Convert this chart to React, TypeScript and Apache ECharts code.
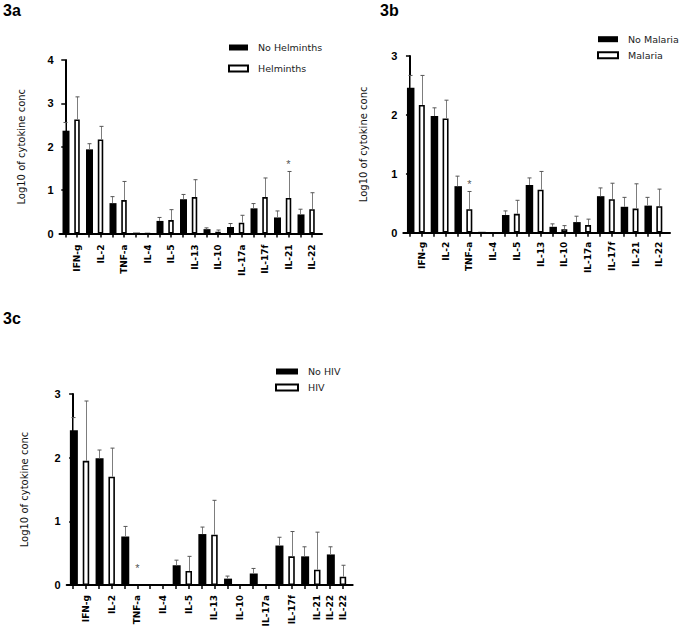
import React, { useEffect, useRef } from 'react';
import * as echarts from 'echarts';

// Cytokine categories (order of the pairs along the x axis)
const cytokines = ['IFN-g', 'IL-2', 'TNF-a', 'IL-4', 'IL-5', 'IL-13', 'IL-10', 'IL-17a', 'IL-17f', 'IL-21', 'IL-22'];

// 3a – helminths
const noHelminths = [2.37, 1.94, 0.70, 0.02, 0.29, 0.79, 0.10, 0.15, 0.58, 0.37, 0.44];
const noHelminthsErr = [0.19, 0.13, 0.15, 0, 0.08, 0.11, 0.03, 0.08, 0.11, 0.15, 0.12];
const helminths = [2.63, 2.17, 0.77, 0, 0.31, 0.84, 0.04, 0.25, 0.84, 0.82, 0.56];
const helminthsErr = [0.52, 0.30, 0.43, 0, 0.24, 0.40, 0.04, 0.17, 0.44, 0.61, 0.38];

// 3b – malaria
const noMalaria = [2.46, 1.98, 0.79, 0.015, 0.30, 0.81, 0.10, 0.18, 0.62, 0.44, 0.46];
const noMalariaErr = [0.21, 0.14, 0.17, 0, 0.07, 0.12, 0.05, 0.10, 0.14, 0.16, 0.14];
const malaria = [2.17, 1.94, 0.40, 0, 0.32, 0.73, 0.06, 0.13, 0.57, 0.41, 0.45];
const malariaErr = [0.50, 0.31, 0.30, 0, 0.23, 0.31, 0.06, 0.10, 0.27, 0.42, 0.29];

// 3c – HIV
const noHiv = [2.43, 1.99, 0.76, 0.015, 0.31, 0.80, 0.10, 0.18, 0.62, 0.45, 0.48];
const noHivErr = [0.20, 0.13, 0.16, 0, 0.08, 0.11, 0.04, 0.08, 0.13, 0.15, 0.12];
const hiv = [1.95, 1.70, 0, 0, 0.22, 0.79, 0, 0, 0.45, 0.24, 0.13];
const hivErr = [0.94, 0.45, 0, 0, 0.23, 0.54, 0, 0, 0.39, 0.59, 0.18];

// Tick labels (slot index of each label; bars occupy slots 0..21)
const labelsAB = cytokines;
const labelSlotsAB = [1, 3, 5, 7, 9, 11, 13, 15, 17, 19, 21];
const labelsC = ['IFN-g', 'IL-2', 'TNF-a', 'IL-4', 'IL-5', 'IL-13', 'IL-10', 'IL-17a', 'IL-17f', 'IL-21', 'IL-22', 'IL-22'];
const labelSlotsC = [1, 3, 5, 7, 9, 11, 13, 15, 17, 19, 20, 21];

// Significance stars: [slot, y]
const starsA = [[19, 1.6]];
const starsB = [[5, 0.83]];
const starsC = [[5, 0.27]];

const titles = ['3a', '3b', '3c'];
const yAxisName = 'Log10 of cytokine conc';

const SANS = '"DejaVu Sans", sans-serif';
const ARIAL = '"Liberation Sans", Arial, sans-serif';

export default function App() {
  const ref = useRef<HTMLDivElement>(null);
  useEffect(() => {
    document.body.style.margin = '0';
    const chart = echarts.init(ref.current!, null, { renderer: 'svg' });

    const panels = [
      {
        names: ['No Helminths', 'Helminths'], a: noHelminths, aErr: noHelminthsErr, b: helminths, bErr: helminthsErr,
        yMax: 4, grid: { left: 59.5, top: 60, width: 262.5, height: 173.5 }, xMin: -0.49, xMax: 21.85,
        barWidth: 7, labels: labelsAB, slots: labelSlotsAB, stars: starsA, nameGap: 33, labelMargin: 11,
        legend: { left: 228, top: 42.5, itemGap: 11, itemWidth: 19 },
        title: { left: 3, top: 2 },
      },
      {
        names: ['No Malaria', 'Malaria'], a: noMalaria, aErr: noMalariaErr, b: malaria, bErr: malariaErr,
        yMax: 3, grid: { left: 403.3, top: 56, width: 266.7, height: 176.7 }, xMin: -0.56, xMax: 21.9,
        barWidth: 7.5, labels: labelsAB, slots: labelSlotsAB, stars: starsB, nameGap: 35, labelMargin: 9,
        legend: { left: 597, top: 34.2, itemGap: 6, itemWidth: 20 },
        title: { left: 380, top: 2 },
      },
      {
        names: ['No HIV', 'HIV'], a: noHiv, aErr: noHivErr, b: hiv, bErr: hivErr,
        yMax: 3, grid: { left: 66.7, top: 394, width: 286, height: 191 }, xMin: -0.5, xMax: 21.76,
        barWidth: 8, labels: labelsC, slots: labelSlotsC, stars: starsC, nameGap: 37, labelMargin: 10,
        legend: { left: 275, top: 366.5, itemGap: 6, itemWidth: 22 },
        title: { left: 3, top: 310 },
      },
    ];

    const grid: any[] = [];
    const xAxis: any[] = [];
    const yAxis: any[] = [];
    const legend: any[] = [];
    const title: any[] = [];
    const series: any[] = [];

    panels.forEach((p, k) => {
      grid.push({ ...p.grid, outerBoundsMode: 'none', containLabel: false });
      const labelMap: Record<number, string> = {};
      p.slots.forEach((s, i) => { labelMap[s] = p.labels[i]; });
      const tickSlots = cytokines.flatMap((_, i) => [2 * i, 2 * i + 1]);
      xAxis.push({
        type: 'value', gridIndex: k, min: p.xMin, max: p.xMax,
        splitLine: { show: false },
        axisLine: { show: true, onZero: false, lineStyle: { color: '#000', width: 2 } },
        axisTick: { show: true, customValues: tickSlots, length: 4, lineStyle: { color: '#000', width: 1.5 } },
        axisLabel: {
          show: true, customValues: p.slots, rotate: 90, margin: p.labelMargin,
          formatter: (v: number) => labelMap[v] ?? '',
          fontFamily: SANS, fontWeight: 'bold', fontSize: 9, color: '#000',
        },
      });
      yAxis.push({
        type: 'value', gridIndex: k, min: 0, max: p.yMax, interval: 1,
        name: yAxisName, nameLocation: 'middle', nameGap: p.nameGap, nameRotate: 90,
        nameTextStyle: { fontFamily: SANS, fontSize: 10, color: '#111' },
        splitLine: { show: false },
        axisLine: { show: true, lineStyle: { color: '#000', width: 2 } },
        axisTick: { show: true, length: 4, lineStyle: { color: '#000', width: 1.5 } },
        axisLabel: { margin: 6, fontFamily: ARIAL, fontWeight: 'bold', fontSize: 11, color: '#000' },
      });
      legend.push({
        data: p.names, orient: 'vertical', left: p.legend.left, top: p.legend.top,
        itemGap: p.legend.itemGap, itemWidth: p.legend.itemWidth, itemHeight: 6, padding: 0,
        icon: 'rect', selectedMode: false,
        textStyle: { fontFamily: SANS, fontSize: 9.5, color: '#222', padding: [0, 0, 0, 5] },
      });
      title.push({
        text: titles[k], left: p.title.left, top: p.title.top, padding: 0,
        textStyle: { fontFamily: ARIAL, fontWeight: 'bold', fontSize: 16, color: '#000' },
      });

      series.push({
        name: p.names[0], type: 'bar', xAxisIndex: k, yAxisIndex: k,
        data: p.a.map((v, i) => [2 * i, v]), barWidth: p.barWidth, barGap: '-100%',
        itemStyle: { color: '#000', borderColor: '#000', borderWidth: 0 },
      });
      series.push({
        name: p.names[1], type: 'bar', xAxisIndex: k, yAxisIndex: k,
        data: p.b.map((v, i) => [2 * i + 1, v]), barWidth: p.barWidth - 1.5, barGap: '-100%',
        itemStyle: { color: '#fff', borderColor: '#000', borderWidth: 1.6 },
      });
      const errData = [
        ...p.a.map((v, i) => [2 * i, v, p.aErr[i]]),
        ...p.b.map((v, i) => [2 * i + 1, v, p.bErr[i]]),
      ];
      series.push({
        type: 'custom', xAxisIndex: k, yAxisIndex: k, z: 3, clip: false,
        encode: { x: 0, y: 1 },
        data: errData,
        renderItem: (_params: any, api: any) => {
          const x = api.value(0), m = api.value(1), e = api.value(2);
          if (!e) return { type: 'group', children: [] };
          const p0 = api.coord([x, m]);
          const p1 = api.coord([x, m + e]);
          const cx = Math.round(p0[0]) + 0.5;
          return {
            type: 'group',
            children: [
              { type: 'line', shape: { x1: cx, y1: p0[1], x2: cx, y2: p1[1] }, style: { stroke: '#7d7d7d', lineWidth: 1 } },
              { type: 'line', shape: { x1: cx - 2, y1: p1[1], x2: cx + 2, y2: p1[1] }, style: { stroke: '#555', lineWidth: 1 } },
            ],
          };
        },
      });
      series.push({
        type: 'scatter', xAxisIndex: k, yAxisIndex: k, z: 4,
        data: p.stars, symbolSize: 1, itemStyle: { color: 'rgba(0,0,0,0)' },
        label: { show: true, formatter: '*', position: 'inside', fontFamily: ARIAL, fontSize: 11, color: '#222' },
      });
    });

    chart.setOption({
      animation: false,
      backgroundColor: '#fff',
      title, grid, xAxis, yAxis, legend, series,
    });
    return () => chart.dispose();
  }, []);
  return <div ref={ref} style={{ width: 683, height: 638 }} />;
}
